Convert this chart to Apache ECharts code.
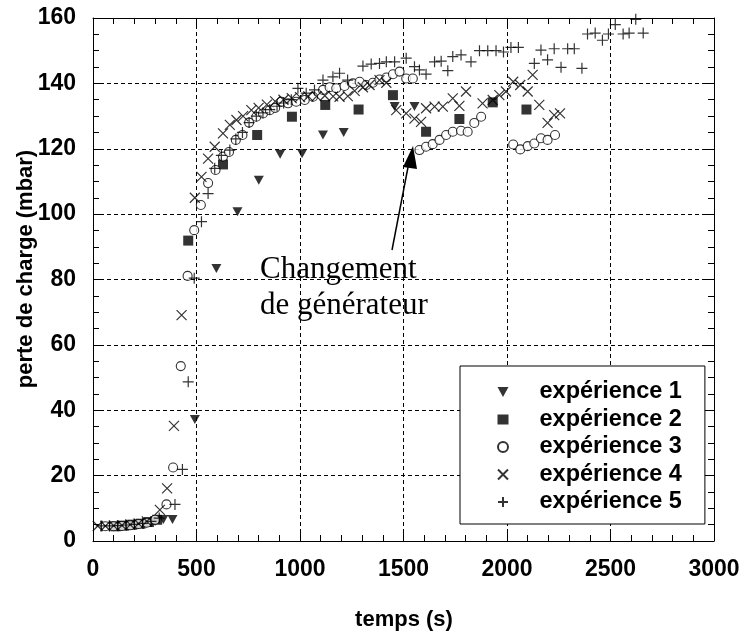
<!DOCTYPE html>
<html><head><meta charset="utf-8">
<script src="https://cdn.jsdelivr.net/npm/echarts@6/dist/echarts.min.js"></script>
<style>html,body{margin:0;padding:0;background:#fff}#c{width:746px;height:637px}</style>
</head><body><div id="c"></div>
<script>
// data: [time (s), pressure drop (mbar)]
const seriesNames = ['expérience 1','expérience 2','expérience 3','expérience 4','expérience 5'];
const exp1 = [[100,4.4],[140,4.6],[180,4.8],[220,5.0],[260,5.4],[300,6.0],[340,6.6],[384,6.6],[492,37.2],[596,83.4],[698,100.7],[801,110.4],[904,118.3],[1010,118.5],[1111,124.2],[1211,125.0],[1457,132.9],[1553,132.9]];
const exp2 = [[110,4.5],[150,4.7],[190,5.0],[230,5.3],[270,5.8],[310,6.5],[460,91.9],[628,115.2],[793,124.2],[961,129.8],[1122,133.4],[1283,132.0],[1449,136.4],[1609,125.2],[1770,129.1],[1931,134.2],[2094,132.0]];
const exp3 = [[60,4.5],[100,4.5],[140,4.6],[180,4.8],[220,5.2],[260,5.6],[300,6.5],[355,11.2],[387,22.5],[424,53.5],[457,81.1],[489,95.1],[521,102.8],[556,109.5],[592,113.5],[628,117.6],[657,119.0],[690,122.7],[722,124.2],[754,128.0],[789,129.8],[821,130.8],[854,131.8],[880,132.5],[910,134.4],[942,133.9],[982,134.4],[1023,134.9],[1063,135.9],[1111,138.0],[1143,138.8],[1175,138.5],[1215,139.2],[1256,140.0],[1288,140.5],[1320,139.5],[1352,140.2],[1384,141.2],[1417,141.8],[1449,142.8],[1481,143.6],[1513,141.5],[1545,141.5],[1577,119.6],[1609,120.6],[1641,121.4],[1674,122.7],[1706,124.2],[1738,125.2],[1778,125.5],[1810,125.2],[1842,127.9],[1875,129.8],[2030,121.3],[2064,119.8],[2100,120.8],[2132,121.6],[2164,123.2],[2196,122.7],[2232,124.2]];
const exp4 = [[23,4.6],[60,4.6],[100,4.7],[140,4.8],[180,5.0],[220,5.3],[260,6.0],[323,9.5],[358,16.1],[391,35.2],[428,69.1],[492,105.0],[524,111.4],[556,117.0],[588,120.6],[628,124.7],[661,127.3],[693,128.8],[725,130.0],[765,131.8],[800,132.5],[840,133.5],[880,134.5],[920,135.0],[960,135.5],[1000,135.8],[1040,136.0],[1080,136.0],[1120,136.2],[1160,136.0],[1191,135.9],[1231,136.1],[1264,137.7],[1304,138.8],[1336,139.5],[1384,141.0],[1417,140.2],[1465,131.8],[1513,130.8],[1553,129.2],[1585,128.2],[1609,132.4],[1650,132.9],[1690,132.9],[1738,135.4],[1770,133.1],[1802,137.5],[1882,133.9],[1931,134.9],[1963,136.4],[1995,137.5],[2030,140.5],[2064,139.5],[2100,137.5],[2124,142.6],[2156,133.4],[2196,127.9],[2228,130.3],[2256,130.8]];
const exp5 = [[40,4.6],[80,4.6],[120,4.7],[160,4.9],[200,5.1],[240,5.4],[280,6.0],[320,7.0],[396,11.2],[432,21.9],[460,48.7],[489,80.4],[524,97.7],[556,106.3],[588,114.0],[620,118.0],[661,119.6],[690,123.0],[722,125.0],[754,128.0],[789,130.0],[821,131.0],[854,132.0],[889,133.0],[921,134.0],[958,135.0],[990,138.5],[1030,137.0],[1070,138.0],[1111,141.0],[1159,142.0],[1191,143.1],[1230,141.0],[1304,145.3],[1344,145.9],[1384,146.1],[1417,146.6],[1457,146.6],[1513,147.7],[1553,145.1],[1577,144.1],[1609,142.8],[1650,146.6],[1682,146.8],[1714,143.9],[1738,148.2],[1778,148.7],[1826,146.6],[1867,150.0],[1907,150.0],[1947,150.0],[1983,149.6],[2019,151.0],[2055,151.0],[2132,146.1],[2164,150.2],[2196,147.2],[2228,150.6],[2261,144.9],[2293,150.6],[2325,150.6],[2362,144.6],[2389,155.1],[2426,155.4],[2461,153.2],[2490,155.1],[2523,158.0],[2561,155.1],[2590,155.4],[2622,159.6],[2658,155.4]];
const annotationLines = ['Changement', 'de générateur'];
const xTitle = 'temps (s)';
const yTitle = 'perte de charge (mbar)';

const chart = echarts.init(document.getElementById('c'), null, {renderer:'canvas'});
const F = 'Liberation Sans, Arial, Helvetica, sans-serif';
const SERIF = '"Liberation Serif", "Times New Roman", serif';
const axisLine = {show:true,onZero:false,lineStyle:{color:'#000',width:1}};
const axisTick = {show:true,inside:true,length:9,lineStyle:{color:'#000'}};
const plain = v => String(v);
const styles = [
  {symbol:'path://M0,0L10,0L5,9Z', symbolSize:[10,9], itemStyle:{color:'#000'}},
  {symbol:'rect', symbolSize:10, itemStyle:{color:'#000'}},
  {symbol:'circle', symbolSize:9, itemStyle:{color:'#fff',borderColor:'#000',borderWidth:1.1}},
  {symbol:'path://M0,0L10,10M0,10L10,0', symbolSize:10, itemStyle:{color:'rgba(0,0,0,0)',borderColor:'#000',borderWidth:1.2}},
  {symbol:'path://M5,0L5,10M0,5L10,5', symbolSize:11, itemStyle:{color:'rgba(0,0,0,0)',borderColor:'#000',borderWidth:1.2}}
];
const datasets = [exp1,exp2,exp3,exp4,exp5];
const series = datasets.map((d,i)=>Object.assign({
  type:'scatter', name:seriesNames[i], data:d, xAxisIndex:0, yAxisIndex:0, z:2+i
}, styles[i]));

chart.setOption({
  animation:false,
  backgroundColor:'#fff',
  grid:{left:93, top:18, width:621, height:523},
  xAxis:[
    {type:'value',min:0,max:3000,interval:500,position:'bottom',axisLine,axisTick,
      minorTick:{show:true,splitNumber:5,length:6,lineStyle:{color:'#000'}},
      axisLabel:{color:'#000',fontFamily:F,fontWeight:'bold',fontSize:23,margin:17,formatter:plain},
      splitLine:{show:true,lineStyle:{color:'#000',type:[4,3],width:1}}},
    {type:'value',min:0,max:3000,interval:500,position:'top',axisLine,axisTick,
      minorTick:{show:true,splitNumber:5,length:6,lineStyle:{color:'#000'}},
      axisLabel:{show:false}, splitLine:{show:false}}
  ],
  yAxis:[
    {type:'value',min:0,max:160,interval:20,position:'left',axisLine,axisTick,
      minorTick:{show:true,splitNumber:4,length:6,lineStyle:{color:'#000'}},
      axisLabel:{color:'#000',fontFamily:F,fontWeight:'bold',fontSize:23,margin:17,formatter:plain},
      splitLine:{show:true,lineStyle:{color:'#000',type:[4,3],width:1}}},
    {type:'value',min:0,max:160,interval:20,position:'right',axisLine,axisTick,
      minorTick:{show:true,splitNumber:4,length:6,lineStyle:{color:'#000'}},
      axisLabel:{show:false}, splitLine:{show:false}}
  ],
  legend:{
    orient:'vertical', left:460, top:366,
    padding:[14,23,10,37],
    itemGap:3.5, itemWidth:11, itemHeight:10,
    backgroundColor:'#fff', borderColor:'#000', borderWidth:1,
    textStyle:{color:'#000',fontFamily:F,fontWeight:'bold',fontSize:23.5,lineHeight:24,padding:[0,0,0,26]},
    data:seriesNames
  },
  series: series,
  graphic:[
    {type:'text', x:260, y:270, z:10, style:{text:annotationLines[0], font:'31px '+SERIF, fill:'#000', verticalAlign:'middle'}},
    {type:'text', x:260, y:306, z:10, style:{text:annotationLines[1], font:'31px '+SERIF, fill:'#000', verticalAlign:'middle'}},
    {type:'line', z:10, shape:{x1:392,y1:250,x2:409,y2:162}, style:{stroke:'#000',lineWidth:1.5}},
    {type:'polygon', z:10, shape:{points:[[413,146],[403,167],[417,169]]}, style:{fill:'#000'}},
    {type:'text', x:404, y:620, style:{text:xTitle, font:'bold 22px '+F, fill:'#000', align:'center', verticalAlign:'middle'}},
    {type:'text', x:26, y:269, rotation:Math.PI/2, style:{text:yTitle, font:'bold 22px '+F, fill:'#000', align:'center', verticalAlign:'middle'}}
  ]
});
</script></body></html>
